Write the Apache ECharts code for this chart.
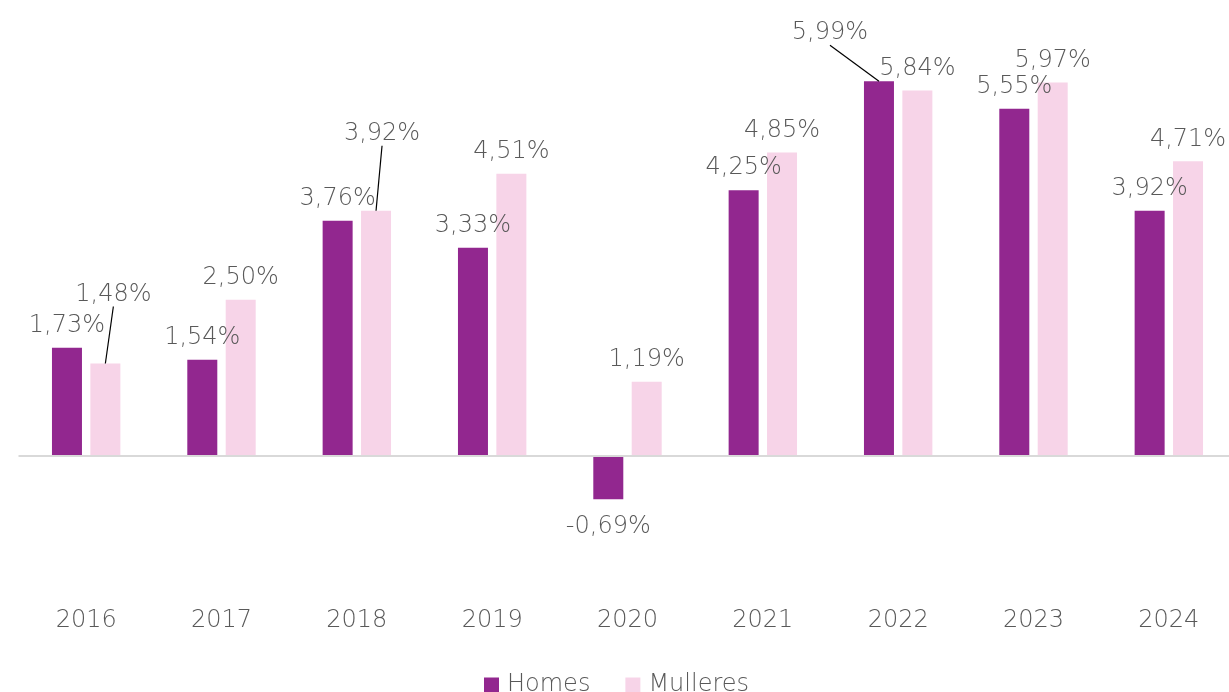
<!DOCTYPE html>
<html>
<head>
<meta charset="utf-8">
<script src="https://cdn.jsdelivr.net/npm/echarts@6/dist/echarts.min.js"></script>
<style>
  html, body { margin: 0; padding: 0; background: #fff; overflow: hidden; }
  /* the plot area runs a few pixels past the right edge, as in the original */
  #chart { width: 1237px; height: 692px; }
</style>
</head>
<body>
<div id="chart"></div>
<script>
const years = ['2016', '2017', '2018', '2019', '2020', '2021', '2022', '2023', '2024'];
const homes = [1.73, 1.54, 3.76, 3.33, -0.69, 4.25, 5.99, 5.55, 3.92];
const mulleres = [1.48, 2.50, 3.92, 4.51, 1.19, 4.85, 5.84, 5.97, 4.71];

// labels moved away from their bar (drawn with a leader line): 'series-dataIndex' -> shift
const movedLabels = {
  '0-6': { dx: -49, dy: -26 },
  '1-0': { dx: 8, dy: -47 },
  '1-2': { dx: 6, dy: -55 }
};

const FONT = 'DejaVu Sans';
const GRAY = '#595959';
const LABEL_DIST = 10;

const fmt = p => p.value.toFixed(2).replace('.', ',') + '%';

function buildData(values) {
  return values.map(v => {
    const item = { value: v };
    if (v < 0) item.label = { position: 'bottom', distance: 15 };
    return item;
  });
}

function seriesOf(name, values, idx, color) {
  return {
    name: name,
    type: 'bar',
    barWidth: 30,
    barGap: '28%',
    itemStyle: { color: color },
    data: buildData(values),
    label: {
      show: true,
      position: 'top',
      distance: LABEL_DIST,
      formatter: fmt,
      color: GRAY,
      fontFamily: FONT,
      fontWeight: 200,
      fontSize: 24
    },
    labelLayout: params => {
      const m = movedLabels[idx + '-' + params.dataIndex];
      return m ? { dx: m.dx, dy: m.dy } : {};
    }
  };
}

const chart = echarts.init(document.getElementById('chart'));

const s0 = seriesOf('Homes', homes, 0, '#92278F');
s0.markLine = {
  silent: true,
  symbol: 'none',
  label: { show: false },
  lineStyle: { color: '#D9D9D9', width: 2, type: 'solid' },
  data: [{ yAxis: 0 }]
};
const s1 = seriesOf('Mulleres', mulleres, 1, '#F7D4E8');

chart.setOption({
  animation: false,
  textStyle: { fontFamily: FONT },
  grid: { left: 18.5, top: 18, width: 1218, height: 579, containLabel: false },
  legend: {
    top: 673,
    left: 484,
    padding: 0,
    icon: 'rect',
    itemWidth: 15,
    itemHeight: 15,
    itemGap: 35,
    textStyle: { color: GRAY, fontSize: 24, fontFamily: FONT, fontWeight: 200, padding: [0, 0, 0, 3] },
    data: ['Homes', 'Mulleres']
  },
  xAxis: {
    type: 'category',
    data: years,
    axisLine: { show: false, onZero: false },
    axisTick: { show: false },
    axisLabel: { color: GRAY, fontSize: 24, fontFamily: FONT, fontWeight: 200, margin: 12 }
  },
  yAxis: {
    type: 'value',
    min: -2.25,
    max: 7,
    show: false,
    splitLine: { show: false }
  },
  series: [s0, s1]
});

// leader lines: from the top of the bar to the bottom of its moved label,
// both taken from the bar layout the chart computed
const leaders = Object.keys(movedLabels).map(key => {
  const [si, di] = key.split('-').map(Number);
  const m = movedLabels[key];
  const lay = chart.getModel().getSeriesByIndex(si).getData().getItemLayout(di);
  const x0 = lay.x + lay.width / 2;
  const y0 = Math.min(lay.y, lay.y + lay.height);
  return {
    type: 'line',
    silent: true,
    z: 10,
    shape: { x1: x0, y1: y0, x2: x0 + m.dx, y2: y0 - LABEL_DIST + m.dy },
    style: { stroke: '#000', lineWidth: 1.2 }
  };
});
chart.setOption({ graphic: leaders });
</script>
</body>
</html>
